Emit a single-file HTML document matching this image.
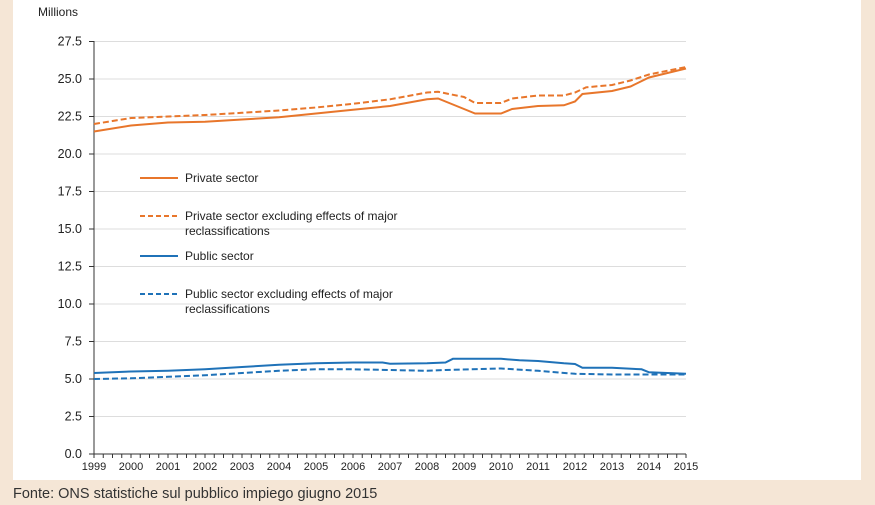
<!DOCTYPE html>
<html><head><meta charset="utf-8"><style>
body{margin:0;width:875px;height:505px;background:#f5e6d6;font-family:"Liberation Sans",sans-serif;overflow:hidden}
</style></head><body>
<svg width="875" height="505" style="position:absolute;left:0;top:0">
<rect x="13" y="0" width="848" height="480" fill="#fff"/>
<g id="grid"></g>
<line x1="94" y1="41" x2="94" y2="454" stroke="#333" stroke-width="1"/>
<line x1="94" y1="454" x2="686" y2="454" stroke="#333" stroke-width="1"/>
<g id="ticks"></g>
<text x="38" y="16" font-size="12" fill="#222">Millions</text>
<g id="series" fill="none" stroke-width="2"></g>
<g font-size="12" fill="#222">
<line x1="140" y1="178" x2="178" y2="178" stroke="#e8762b" stroke-width="2"/>
<text x="185" y="182">Private sector</text>
<line x1="140" y1="216" x2="178" y2="216" stroke="#e8762b" stroke-width="2" stroke-dasharray="5,3"/>
<text x="185" y="220">Private sector excluding effects of major</text>
<text x="185" y="235">reclassifications</text>
<line x1="140" y1="256" x2="178" y2="256" stroke="#1f72b8" stroke-width="2"/>
<text x="185" y="260">Public sector</text>
<line x1="140" y1="294" x2="178" y2="294" stroke="#1f72b8" stroke-width="2" stroke-dasharray="5,3"/>
<text x="185" y="298">Public sector excluding effects of major</text>
<text x="185" y="313">reclassifications</text>
</g>
<text x="13" y="498" font-size="14.5" fill="#333">Fonte: ONS statistiche sul pubblico impiego giugno 2015</text>
</svg>
<script>
const NS="http://www.w3.org/2000/svg";
function el(p,t,a,txt){const e=document.createElementNS(NS,t);for(const k in a)e.setAttribute(k,a[k]);if(txt)e.textContent=txt;document.getElementById(p).appendChild(e);return e;}
const Y=v=>454-v*15, X=y=>94+(y-1999)*37;
for(let i=0;i<=11;i++){const v=i*2.5,y=Y(v);
 if(i>0)el("grid","line",{x1:94,y1:y,x2:686,y2:y,stroke:"#ddd","stroke-width":1});
 el("ticks","line",{x1:89,y1:y,x2:94,y2:y,stroke:"#333"});
 el("ticks","text",{x:82,y:y+4,"font-size":12.5,"text-anchor":"end",fill:"#222"},v.toFixed(1));}
for(let q=0;q<=64;q++){const x=94+q*37/4;el("ticks","line",{x1:x,y1:454,x2:x,y2:458,stroke:"#333"});}
for(let yr=1999;yr<=2015;yr++)el("ticks","text",{x:X(yr),y:470,"font-size":11,"text-anchor":"middle",fill:"#222"},yr);
function path(d,c,dash){el("series","path",{d:"M"+d.map(p=>X(p[0]).toFixed(1)+","+Y(p[1]).toFixed(1)).join("L"),stroke:c,"stroke-dasharray":dash||"none"});}
const ps=[[1999,21.5],[2000,21.9],[2000.5,22.0],[2001,22.1],[2002,22.15],[2003,22.3],[2004,22.45],[2005,22.7],[2006,22.95],[2007,23.2],[2008,23.65],[2008.3,23.7],[2008.6,23.4],[2009,23.0],[2009.3,22.7],[2010,22.7],[2010.3,23.0],[2011,23.2],[2011.7,23.25],[2012,23.5],[2012.2,24.0],[2013,24.2],[2013.5,24.5],[2014,25.1],[2015,25.7]];
const pd=[[1999,22.0],[2000,22.4],[2001,22.5],[2002,22.6],[2003,22.75],[2004,22.9],[2005,23.1],[2006,23.35],[2007,23.65],[2008,24.1],[2008.3,24.15],[2009,23.8],[2009.3,23.4],[2010,23.4],[2010.3,23.7],[2011,23.9],[2011.7,23.9],[2012,24.1],[2012.3,24.45],[2013,24.6],[2013.5,24.9],[2014,25.3],[2015,25.8]];
const us=[[1999,5.4],[2000,5.5],[2001,5.55],[2002,5.65],[2003,5.8],[2004,5.95],[2005,6.05],[2006,6.1],[2006.8,6.1],[2007,6.02],[2008,6.05],[2008.5,6.1],[2008.7,6.35],[2010,6.35],[2010.5,6.25],[2011,6.2],[2011.7,6.05],[2012,6.0],[2012.2,5.75],[2013,5.75],[2013.8,5.65],[2014,5.45],[2015,5.35]];
const ud=[[1999,5.0],[2000,5.05],[2001,5.15],[2002,5.25],[2003,5.4],[2004,5.55],[2005,5.65],[2006,5.65],[2007,5.6],[2008,5.55],[2008.5,5.6],[2010,5.7],[2011,5.55],[2012,5.35],[2013,5.3],[2014,5.3],[2015,5.3]];
path(ps,"#e8762b");path(pd,"#e8762b","6,3");path(us,"#1f72b8");path(ud,"#1f72b8","6,3");
</script>
</body></html>
